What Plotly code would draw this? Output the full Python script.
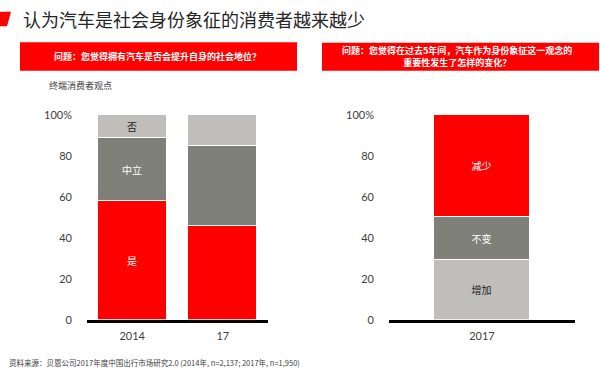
import plotly.graph_objects as go

# ---- data ----
left_years = ["2014", "17"]
left_yes = [58, 46]        # 是
left_neutral = [31, 39]    # 中立
left_no = [11, 15]         # 否
left_labels = {"是": ["是", ""], "中立": ["中立", ""], "否": ["否", ""]}

right_years = ["2017"]
right_increase = [29]      # 增加
right_same = [21]          # 不变
right_decrease = [50]      # 减少

tick_vals = [0, 20, 40, 60, 80, 100]
tick_text = ["0", "20", "40", "60", "80", "100%"]

RED = "#FF0000"
DARK = "#80807B"
LIGHT = "#BFBEBA"
CJK = "Noto Sans CJK SC"
NUM = "Lato, Noto Sans CJK SC"

fig = go.Figure()

def add_bar(x, y, name, color, text, tcolor, xa, ya, width):
    fig.add_trace(go.Bar(
        x=x, y=y, name=name, text=text, textposition="inside",
        insidetextanchor="middle", textangle=0,
        textfont=dict(family=CJK, size=10, color=tcolor),
        marker=dict(color=color, line=dict(color="white", width=1)),
        width=width, xaxis=xa, yaxis=ya, showlegend=False,
        hoverinfo="skip"))

add_bar(left_years, left_yes, "是", RED, left_labels["是"], "white", "x", "y", 0.76)
add_bar(left_years, left_neutral, "中立", DARK, left_labels["中立"], "white", "x", "y", 0.76)
add_bar(left_years, left_no, "否", LIGHT, left_labels["否"], "#222222", "x", "y", 0.76)

add_bar(right_years, right_increase, "增加", LIGHT, ["增加"], "#222222", "x2", "y2", 0.52)
add_bar(right_years, right_same, "不变", DARK, ["不变"], "white", "x2", "y2", 0.52)
add_bar(right_years, right_decrease, "减少", RED, ["减少"], "white", "x2", "y2", 0.52)

ydom = [1 - 324 / 375, 1 - 112 / 375]
axis_common_x = dict(showline=True, linecolor="black", linewidth=3, showgrid=False,
                     zeroline=False, ticks="", tickfont=dict(family=NUM, size=11, color="#404040"),
                     ticklabelstandoff=4, fixedrange=True)
axis_common_y = dict(range=[0, 100], domain=ydom, tickvals=tick_vals, ticktext=tick_text,
                     showgrid=False, zeroline=False, showline=False, ticks="",
                     tickfont=dict(family=NUM, size=11, color="#404040"),
                     ticklabelstandoff=14, fixedrange=True)

fig.update_layout(
    width=600, height=375, autosize=False, margin=dict(l=0, r=0, t=0, b=0),
    paper_bgcolor="white", plot_bgcolor="white", barmode="stack", bargap=0,
    xaxis=dict(domain=[87 / 600, 268 / 600], anchor="y", range=[-0.5, 1.5], **axis_common_x),
    yaxis=dict(anchor="x", **axis_common_y),
    xaxis2=dict(domain=[389 / 600, 575 / 600], anchor="y2", range=[-0.5, 0.5], **axis_common_x),
    yaxis2=dict(anchor="x2", **axis_common_y),
)

def ann(x, y, text, size, color, xanchor="center", yanchor="middle"):
    fig.add_annotation(x=x / 600, y=1 - y / 375, xref="paper", yref="paper",
                       xanchor=xanchor, yanchor=yanchor, showarrow=False, text=text,
                       font=dict(family=CJK, size=size, color=color))

# title marker and title
fig.add_shape(type="path", xref="paper", yref="paper",
              path=f"M 0.0 {1-5/375} L {11/600} {1-5/375} L {7/600} {1-20/375} L 0 {1-20/375} Z",
              fillcolor=RED, line=dict(width=0))
ann(21, 12.5, "认为汽车是社会身份象征的消费者越来越少", 18, "#262626", xanchor="left")

# header boxes
fig.add_shape(type="rect", xref="paper", yref="paper",
              x0=20 / 600, x1=297 / 600, y0=1 - 66 / 375, y1=1 - 36.5 / 375,
              fillcolor=RED, line=dict(width=0))
ann(158, 51, "<b>问题：您觉得拥有汽车是否会提升自身的社会地位？</b>", 9, "white")
fig.add_shape(type="rect", xref="paper", yref="paper",
              x0=322 / 600, x1=599 / 600, y0=1 - 66 / 375, y1=1 - 37 / 375,
              fillcolor=RED, line=dict(width=0))
ann(457, 51, "<b>问题：您觉得在过去5年间，汽车作为身份象征这一观念的<br>重要性发生了怎样的变化？</b>",
    9, "white")

ann(47, 81.5, "终端消费者观点", 9, "#404040", xanchor="left")
ann(7, 368, "资料来源：贝恩公司2017年度中国出行市场研究2.0 (2014年, n=2,137; 2017年, n=1,950)",
    7.5, "#404040", xanchor="left")

fig.write_html("out.html", config={"displayModeBar": False},
               post_script="document.body.style.margin='0';document.body.style.overflow='hidden';")
